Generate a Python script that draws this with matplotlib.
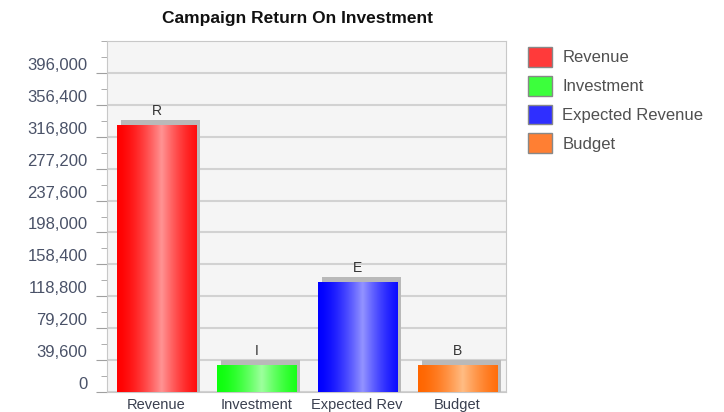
import numpy as np
import matplotlib
matplotlib.use("Agg")
import matplotlib.pyplot as plt
import matplotlib.transforms as mtransforms
from matplotlib.patches import Patch
from matplotlib.ticker import MultipleLocator, FuncFormatter

plt.rcParams['font.family'] = ['Liberation Sans', 'DejaVu Sans']

categories = ['Revenue', 'Investment', 'Expected Rev', 'Budget']
legend_names = ['Revenue', 'Investment', 'Expected Revenue', 'Budget']
values = [331000, 33500, 136500, 33500]
bar_labels = ['R', 'I', 'E', 'B']
edge_cols = [(1.0, 0.0, 0.0), (0.05, 1.0, 0.05), (0.0, 0.0, 1.0), (1.0, 0.40, 0.0)]
light_cols = [(1.0, 0.58, 0.58), (0.62, 1.0, 0.62), (0.58, 0.58, 1.0), (1.0, 0.74, 0.52)]
legend_cols = ['#ff3a3a', '#3cff3c', '#2f2fff', '#ff7f33']

step = 39600

fig = plt.figure(figsize=(7.24, 4.12), dpi=100)
ax = fig.add_axes([107/724, 1-392/412, (506-107)/724, (392-41)/412])
ax.set_facecolor('#f5f5f5')

# horizontal gradient profile across a bar (light stripe a bit right of centre)
t = np.linspace(0, 1, 200)
prof = np.clip(1 - np.abs(t - 0.56) / 0.56, 0, 1) ** 1.6

width = 0.79
for i, v in enumerate(values):
    # grey shadow, offset up and right
    ax.bar(i + 0.04, v + 6000, width=width, color='#b9b9b9', edgecolor='none', zorder=2)
    e = np.array(edge_cols[i])
    l = np.array(light_cols[i])
    grad = e[None, :] + (l - e)[None, :] * prof[:, None]
    ax.imshow(grad[None, :, :], extent=(i - width/2, i + width/2, 0, v),
              aspect='auto', interpolation='bicubic', zorder=3)
    ax.annotate(bar_labels[i], (i, v), xytext=(0, 10), textcoords='offset pixels',
                ha='center', va='baseline', fontsize=10, color='#333333', zorder=5)

ax.set_xlim(-0.495, 3.485)
ax.set_ylim(0, 435600)
ax.set_yticks(np.arange(0, 396001, step))
ax.yaxis.set_minor_locator(MultipleLocator(step / 2))
ax.yaxis.set_major_formatter(FuncFormatter(lambda y, p: f'{int(y):,}'))
ax.grid(axis='y', color='#d2d2d2', lw=1.5, zorder=1)
ax.set_axisbelow(True)

ax.set_xticks(range(len(categories)))
ax.set_xticklabels(categories, fontsize=10.5, color='#3a4050')
ax.tick_params(axis='x', length=0, pad=4)
ax.tick_params(axis='y', which='major', length=8, color='#a0a0a0', labelsize=12,
               labelcolor='#4a5268', pad=6)
ax.tick_params(axis='y', which='minor', length=4, color='#a0a0a0')
for s in ax.spines.values():
    s.set_color('#c8c8c8')

# y labels sit a little above their ticks in the original
shift = mtransforms.ScaledTranslation(0, 9/100, fig.dpi_scale_trans)
for lab in ax.get_yticklabels():
    lab.set_transform(lab.get_transform() + shift)

fig.text(297/724, 1-18/412, 'Campaign Return On Investment', ha='center', va='center',
         fontsize=12.5, fontweight='bold', color='#111111')

handles = [Patch(facecolor=c, edgecolor='#888888', lw=1) for c in legend_cols]
fig.legend(handles, legend_names, loc='upper left', bbox_to_anchor=(528/724, 1-47/412),
           frameon=False, fontsize=12, handlelength=1.45, handleheight=1.45,
           labelspacing=0.54, handletextpad=0.6, borderpad=0, borderaxespad=0,
           labelcolor='#505050')

fig.savefig('out.png', dpi=100)
